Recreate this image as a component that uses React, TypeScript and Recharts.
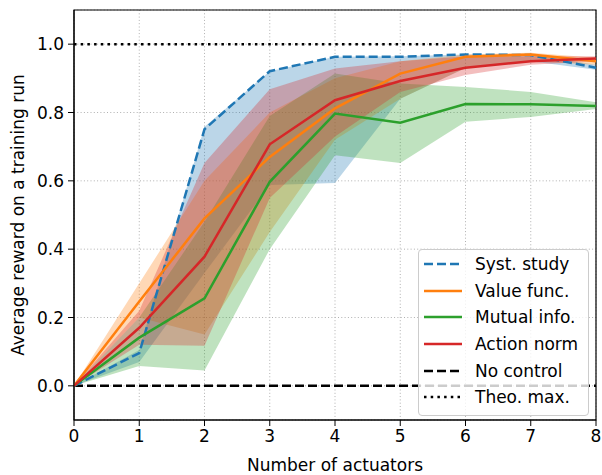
import React from "react"
import {
  ComposedChart,
  Area,
  Line,
  XAxis,
  YAxis,
  CartesianGrid,
  ReferenceLine,
  ReferenceArea,
  Label,
} from "recharts"

// Number of actuators (x axis)
const actuators = [0, 1, 2, 3, 4, 5, 6, 7, 8]

// Mean reward per method
const systStudy = [0, 0.096, 0.751, 0.921, 0.963, 0.963, 0.97, 0.968, 0.931]
const valueFunc = [0, 0.247, 0.49, 0.67, 0.812, 0.914, 0.963, 0.97, 0.95]
const mutualInfo = [0, 0.141, 0.256, 0.597, 0.797, 0.77, 0.825, 0.824, 0.819]
const actionNorm = [0, 0.17, 0.378, 0.707, 0.836, 0.892, 0.931, 0.95, 0.958]

// Shaded bands (low / high)
const systStudyLo = [0, 0.07, 0.33, 0.588, 0.594, 0.84, 0.93, 0.95, 0.925]
const systStudyHi = [0, 0.105, 0.758, 0.921, 0.963, 0.965, 0.97, 0.97, 0.94]
const valueFuncLo = [0, 0.2, 0.15, 0.45, 0.72, 0.84, 0.93, 0.95, 0.94]
const valueFuncHi = [0, 0.3, 0.6, 0.8, 0.9, 0.95, 0.97, 0.975, 0.96]
const mutualInfoLo = [0, 0.058, 0.045, 0.4, 0.675, 0.652, 0.773, 0.787, 0.81]
const mutualInfoHi = [0, 0.2, 0.48, 0.79, 0.914, 0.885, 0.875, 0.86, 0.83]
const actionNormLo = [0, 0.12, 0.117, 0.55, 0.73, 0.86, 0.91, 0.94, 0.95]
const actionNormHi = [0, 0.22, 0.652, 0.868, 0.929, 0.95, 0.965, 0.965, 0.965]

const xTicks = [0, 1, 2, 3, 4, 5, 6, 7, 8]
const yTicks = [0, 0.2, 0.4, 0.6, 0.8, 1.0]

const noControl = 0
const theoMax = 1

const series = [
  { key: "syst", name: "Syst. study", color: "#1f77b4", dash: "9 4", mean: systStudy, lo: systStudyLo, hi: systStudyHi },
  { key: "value", name: "Value func.", color: "#ff7f0e", dash: undefined, mean: valueFunc, lo: valueFuncLo, hi: valueFuncHi },
  { key: "mutual", name: "Mutual info.", color: "#2ca02c", dash: undefined, mean: mutualInfo, lo: mutualInfoLo, hi: mutualInfoHi },
  { key: "action", name: "Action norm", color: "#d62728", dash: undefined, mean: actionNorm, lo: actionNormLo, hi: actionNormHi },
]

const legendItems = [
  ...series.map((s) => ({ name: s.name, color: s.color, dash: s.dash })),
  { name: "No control", color: "#000000", dash: "9 4" },
  { name: "Theo. max.", color: "#000000", dash: "2.5 4.2" },
]

const data = actuators.map((x, i) => {
  const row: Record<string, number | number[]> = { x }
  series.forEach((s) => {
    row[s.key] = s.mean[i]
    row[s.key + "Band"] = [s.lo[i], s.hi[i]]
  })
  return row
})

const font = "'DejaVu Sans', sans-serif"

export default function App() {
  return (
    <div style={{ position: "fixed", left: 0, top: 0, width: 602, height: 475, background: "#fff", fontFamily: font }}>
      <ComposedChart width={602} height={475} data={data} margin={{ top: 10, right: 6, bottom: 0, left: 0 }}>
        <CartesianGrid stroke="#b0b0b0" strokeDasharray="1 2.3" strokeWidth={1} ticks={xTicks} />
        <XAxis
          dataKey="x"
          type="number"
          domain={[0, 8]}
          ticks={xTicks}
          height={55}
          tickSize={6}
          tickMargin={4}
          stroke="#000"
          tick={{ fill: "#000", fontSize: 17, fontFamily: font }}
          allowDataOverflow
        >
          <Label
            content={({ viewBox }: any) => (
              <text
                x={viewBox.x + viewBox.width / 2}
                y={viewBox.y + 51}
                textAnchor="middle"
                fontSize={17}
                fontFamily={font}
                fill="#000"
              >
                Number of actuators
              </text>
            )}
          />
        </XAxis>
        <YAxis
          type="number"
          domain={[-0.1, 1.1]}
          ticks={yTicks}
          width={74}
          tickSize={6}
          tickMargin={4}
          stroke="#000"
          tickFormatter={(v: number) => v.toFixed(1)}
          tick={{ fill: "#000", fontSize: 17, fontFamily: font }}
          allowDataOverflow
        >
          <Label
            content={({ viewBox }: any) => {
              const cx = viewBox.x + 18
              const cy = viewBox.y + viewBox.height / 2
              return (
                <text
                  x={cx}
                  y={cy}
                  transform={`rotate(-90 ${cx} ${cy})`}
                  textAnchor="middle"
                  dominantBaseline="central"
                  fontSize={17}
                  fontFamily={font}
                  fill="#000"
                >
                  Average reward on a training run
                </text>
              )
            }}
          />
        </YAxis>
        {series.map((s) => (
          <Area
            key={s.key + "Band"}
            dataKey={s.key + "Band"}
            type="linear"
            stroke="none"
            fill={s.color}
            fillOpacity={0.3}
            dot={false}
            activeDot={false}
            isAnimationActive={false}
          />
        ))}
        <ReferenceLine y={noControl} stroke="#000" strokeWidth={2.5} strokeDasharray="9 4" />
        <ReferenceLine y={theoMax} stroke="#000" strokeWidth={2.5} strokeDasharray="2.5 4.2" />
        {series.map((s) => (
          <Line
            key={s.key}
            dataKey={s.key}
            name={s.name}
            type="linear"
            stroke={s.color}
            strokeWidth={2.5}
            strokeDasharray={s.dash}
            dot={false}
            activeDot={false}
            isAnimationActive={false}
          />
        ))}
        <ReferenceArea x1={0} x2={8} y1={-0.1} y2={1.1} fill="none" stroke="#000" strokeWidth={1.2} />
      </ComposedChart>
      <div
        style={{
          position: "absolute",
          left: 418,
          top: 249,
          width: 169,
          height: 165,
          background: "rgba(255,255,255,0.8)",
          border: "1px solid #cccccc",
          borderRadius: 4,
        }}
      >
        {legendItems.map((item, i) => (
          <div
            key={item.name}
            style={{ position: "absolute", left: 0, top: 1 + i * 26.6, height: 26.6, display: "flex", alignItems: "center" }}
          >
            <svg width={56} height={10} style={{ display: "block" }}>
              <line
                x1={5}
                x2={43}
                y1={5}
                y2={5}
                stroke={item.color}
                strokeWidth={2.5}
                strokeDasharray={item.dash}
              />
            </svg>
            <span style={{ fontSize: 17, color: "#000", whiteSpace: "nowrap" }}>{item.name}</span>
          </div>
        ))}
      </div>
    </div>
  )
}
